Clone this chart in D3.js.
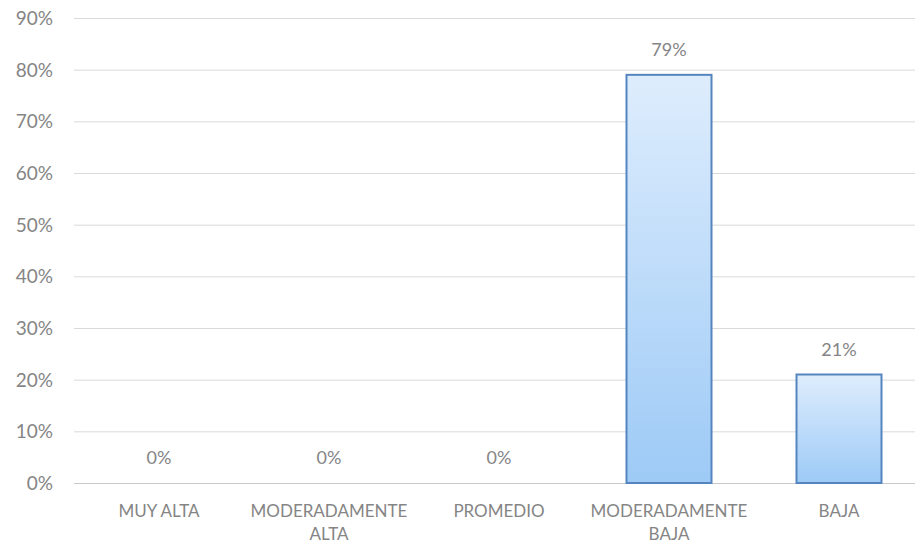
<!DOCTYPE html>
<html>
<head>
<meta charset="utf-8">
<script src="https://cdn.jsdelivr.net/npm/d3@7"></script>
<style>
  body { margin: 0; background: #fff; }
  svg text { font-family: Lato, "Open Sans", sans-serif; fill: #858585; }
</style>
</head>
<body>
<div id="chart"></div>
<script>
var categories = [["MUY ALTA"], ["MODERADAMENTE", "ALTA"], ["PROMEDIO"], ["MODERADAMENTE", "BAJA"], ["BAJA"]];
var values = [0, 0, 0, 79, 21];
var yTicks = [0, 10, 20, 30, 40, 50, 60, 70, 80, 90];

var width = 915, height = 547;
var svg = d3.select("#chart").append("svg")
    .attr("width", width)
    .attr("height", height);

var defs = svg.append("defs");
var grad = defs.append("linearGradient")
    .attr("id", "barGrad")
    .attr("x1", 0).attr("y1", 0).attr("x2", 0).attr("y2", 1);
grad.append("stop").attr("offset", "0%").attr("stop-color", "#deedfd");
grad.append("stop").attr("offset", "100%").attr("stop-color", "#9dcaf6");

var keys = categories.map(function(d){ return d.join(" "); });
var data = values.map(function(v, i){ return {key: keys[i], value: v}; });

var xScale = d3.scaleBand()
    .domain(keys)
    .range([74, 924])
    .paddingInner(0.5)
    .paddingOuter(0.25);

var yScale = d3.scaleLinear()
    .domain([0, 90])
    .range([483, 18]);

// gridlines
svg.append("g").attr("class", "grid")
    .selectAll("line").data(yTicks).enter().append("line")
    .attr("x1", 74).attr("x2", width)
    .attr("y1", d => yScale(d) + 0.5).attr("y2", d => yScale(d) + 0.5)
    .attr("stroke", d => d === 0 ? "#c8c8c8" : "#dadada")
    .attr("stroke-width", 1);

// y axis labels
var yAxis = d3.axisLeft(yScale)
    .tickValues(yTicks)
    .tickFormat(d => d + "%")
    .tickSize(0)
    .tickPadding(0);
var gy = svg.append("g")
    .attr("transform", "translate(53,0)")
    .call(yAxis);
gy.select(".domain").remove();
gy.selectAll("text")
    .attr("font-size", 19)
    .attr("dy", "0.35em")
    .style("font-family", null);

// x axis labels
var gx = svg.append("g").attr("class", "x-axis");
gx.selectAll("text.cat").data(categories).enter().append("text")
    .attr("class", "cat")
    .attr("text-anchor", "middle")
    .attr("font-size", 17)
    .attr("x", (d, i) => xScale(keys[i]) + xScale.bandwidth() / 2)
    .attr("y", 517)
    .each(function(d){
        var t = d3.select(this);
        var x = t.attr("x");
        d.forEach(function(line, j){
            t.append("tspan").attr("x", x).attr("dy", j === 0 ? 0 : 23).text(line);
        });
    });

// bars
svg.selectAll("rect.bar").data(data.filter(d => d.value > 0)).enter().append("rect")
    .attr("class", "bar")
    .attr("x", d => xScale(d.key))
    .attr("y", d => yScale(d.value))
    .attr("width", xScale.bandwidth())
    .attr("height", d => yScale(0) - yScale(d.value))
    .attr("fill", "url(#barGrad)")
    .attr("stroke", "#5585bf")
    .attr("stroke-width", 2);

// value labels
svg.selectAll("text.val").data(data).enter().append("text")
    .attr("class", "val")
    .attr("text-anchor", "middle")
    .attr("font-size", 18)
    .attr("x", d => xScale(d.key) + xScale.bandwidth() / 2)
    .attr("y", d => yScale(d.value) - 19)
    .text(d => d.value + "%");
</script>
</body>
</html>
